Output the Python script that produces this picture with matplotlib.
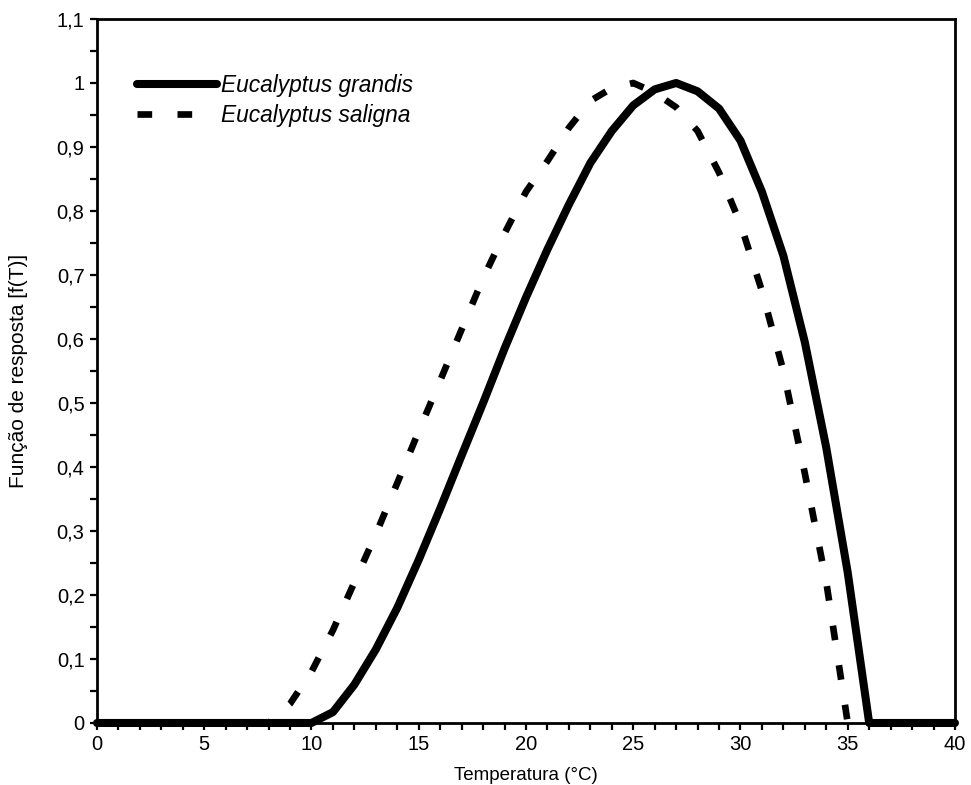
import matplotlib.pyplot as plt
from matplotlib.ticker import FuncFormatter, MultipleLocator

# Temperature response curves.
temperatura = list(range(0, 41))

grandis = [
    0, 0, 0, 0, 0, 0, 0, 0, 0, 0, 0,
    0.017, 0.06, 0.115, 0.18, 0.255, 0.335, 0.418, 0.50, 0.585, 0.665,
    0.74, 0.81, 0.875, 0.925, 0.965, 0.99, 1.0, 0.987, 0.96, 0.91,
    0.83, 0.73, 0.595, 0.43, 0.235, 0, 0, 0, 0, 0,
]

saligna = [
    0, 0, 0, 0, 0, 0, 0, 0, 0,
    0.03, 0.08, 0.145, 0.22, 0.295, 0.375, 0.456, 0.535, 0.615, 0.695,
    0.765, 0.83, 0.878, 0.93, 0.972, 0.992, 1.0, 0.985, 0.962, 0.925,
    0.86, 0.78, 0.675, 0.55, 0.39, 0.22, 0, 0, 0, 0, 0, 0,
]

plt.rcParams["font.family"] = ["Liberation Sans", "DejaVu Sans"]

fig = plt.figure(figsize=(9.71, 7.85), dpi=100)
ax = fig.add_axes([0.0999, 0.079, 0.8836, 0.8968])

ax.plot(
    temperatura, grandis, color="black", lw=5.8, solid_capstyle="round",
    solid_joinstyle="round", clip_on=False, label="Eucalyptus grandis",
)
ax.plot(
    temperatura, saligna, color="black", lw=4.8, linestyle=(0, (2.2, 3.8)),
    dash_capstyle="butt", clip_on=False, label="Eucalyptus saligna",
)

ax.set_xlim(0, 40)
ax.set_ylim(0, 1.1)
ax.xaxis.set_major_locator(MultipleLocator(5))
ax.xaxis.set_minor_locator(MultipleLocator(1))
ax.yaxis.set_major_locator(MultipleLocator(0.1))
ax.yaxis.set_minor_locator(MultipleLocator(0.05))


def virgula(v, pos):
    s = f"{v:.1f}".rstrip("0").rstrip(".")
    return s.replace(".", ",")


ax.yaxis.set_major_formatter(FuncFormatter(virgula))
ax.tick_params(which="both", direction="out", length=5, width=1.6, labelsize=14.5,
               top=False, right=False, pad=4)
for s in ax.spines.values():
    s.set_linewidth(2)

ax.set_xlabel("Temperatura (°C)", fontsize=13.5)
ax.set_ylabel("Função de resposta [f(T)]", fontsize=15)
ax.xaxis.set_label_coords(0.5, -0.062)
ax.yaxis.set_label_coords(-0.080, 0.5)

leg = ax.legend(
    loc="upper left", bbox_to_anchor=(0.0466, 0.9215), frameon=False,
    borderaxespad=0, borderpad=0, handlelength=3.5, handletextpad=0.2,
    labelspacing=0.3, prop={"size": 16.4, "style": "italic"},
)

fig.savefig("out.png", dpi=100)
